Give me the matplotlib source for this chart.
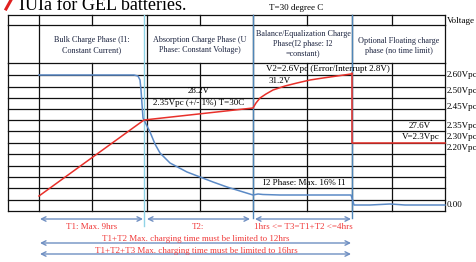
import matplotlib
matplotlib.use('Agg')
import matplotlib.pyplot as plt

plt.rcParams['font.family'] = ['Liberation Serif', 'DejaVu Serif']

# table grid (pixel layout of the schematic)
col_x = [8, 39, 92, 147, 200, 253, 307, 352, 392, 445]
row_y = [15, 25, 63, 75, 87, 98, 109, 120, 131, 143, 154, 166, 177, 188, 200, 211]
header_cols = [8, 39, 147, 253, 352, 445]

phase_names = ['Bulk Charge Phase (I1:\nConstant Current)',
               'Absorption Charge Phase (U\nPhase: Constant Voltage)',
               'Balance/Equalization Charge\nPhase(I2 phase: I2\n=constant)',
               'Optional Floating charge\nphase (no time limit)']

volt_labels = ['2.60Vpc', '2.50Vpc', '2.45Vpc', '2.35Vpc', '2.30Vpc', '2.20Vpc', '0.00']
volt_label_y = [75, 91, 107, 126, 137, 148, 205]

# voltage curve (red)
volt_t = [39, 144, 253, 256, 260, 266, 273, 285, 297, 310, 323, 337, 351, 352, 352, 445]
volt_v = [196, 120, 108, 103, 98, 94, 90, 86, 83, 80, 78, 76, 74, 73, 143, 143]

# current curve (blue)
curr_t = [39, 134, 138, 140, 141, 142, 143, 146, 150, 155, 160, 170, 187,
          200, 213, 227, 240, 253, 258, 263, 280, 320, 351, 352, 354, 370,
          390, 405, 420, 445]
curr_i = [75, 75, 76, 80, 90, 104, 118, 124, 132, 144, 153, 163, 172,
          177, 182, 187, 191, 195, 194, 194.5, 195, 195, 195, 198, 205, 205,
          204, 205, 205, 205]

fig = plt.figure(figsize=(4.76, 2.62), dpi=100)
ax = fig.add_axes([0, 0, 1, 1])
ax.set_xlim(0, 476)
ax.set_ylim(262, 0)
ax.axis('off')

lc = '#111111'
# horizontal lines
for y in row_y:
    ax.plot([col_x[0], col_x[-1]], [y, y], color=lc, lw=0.9)
# vertical lines
for x in col_x:
    ax.plot([x, x], [row_y[0], row_y[1]], color=lc, lw=0.9)
    ax.plot([x, x], [row_y[2], row_y[-1]], color=lc, lw=0.9)
for x in header_cols:
    ax.plot([x, x], [row_y[1], row_y[2]], color=lc, lw=0.9)

# phase boundary markers
ax.plot([144, 144], [15, 226], color='#8fd3e6', lw=1.0)
ax.plot([253, 253], [15, 218], color='#4f86b8', lw=1.0)
ax.plot([352, 352], [15, 218], color='#4f86b8', lw=1.0)

# curves
ax.plot(curr_t, curr_i, color='#5b8ac6', lw=1.1)
ax.plot(volt_t, volt_v, color='#e8302a', lw=1.1)

# header text
hc = '#1c2440'
centers = [92, 200, 303, 399]
ys = [45, 45, 44, 46]
for c, y, name in zip(centers, ys, phase_names):
    ax.text(c, y, name, ha='center', va='center', fontsize=5.9, color=hc,
            linespacing=1.4)

fs = 6.5
ax.text(296, 8, 'T=30 degree C', ha='center', va='center', fontsize=fs)
ax.text(447, 21, 'Voltage', ha='left', va='center', fontsize=6.6)
for lab, y in zip(volt_labels, volt_label_y):
    ax.text(447, y, lab, ha='left', va='center', fontsize=fs)

# title (cut at the top, as in the source)
ax.text(19, 10, 'IUIa for GEL batteries.', ha='left', va='baseline',
        fontsize=13)
ax.plot([6, 11], [9, 0], color='#e02020', lw=2.2)

# annotations in the chart
ax.text(328, 69, 'V2=2.6Vpc (Error/Interrupt 2.8V)', ha='center', va='center', fontsize=fs)
ax.text(280, 81, '31.2V', ha='center', va='center', fontsize=fs)
ax.text(199, 91, '28.2V', ha='center', va='center', fontsize=fs)
ax.text(199, 103, '2.35Vpc (+/- 1%) T=30C', ha='center', va='center', fontsize=fs)
ax.text(420, 126, '27.6V', ha='center', va='center', fontsize=fs)
ax.text(421, 137, 'V=2.3Vpc', ha='center', va='center', fontsize=fs)
ax.text(304, 183, 'I2 Phase: Max. 16% I1', ha='center', va='center', fontsize=fs)

# time arrows
ac = '#6f8fc2'
arrows = [(40, 143, 219), (147, 250, 219), (255, 351, 219),
          (40, 351, 243), (40, 351, 254)]
for x0, x1, y in arrows:
    ax.annotate('', xy=(x1, y), xytext=(x0, y),
                arrowprops=dict(arrowstyle='<->', color=ac, lw=1.0,
                                shrinkA=0, shrinkB=0, mutation_scale=8))

rc = '#f03a3a'
ax.text(92, 227, 'T1: Max. 9hrs', ha='center', va='center', fontsize=fs, color=rc)
ax.text(198, 227, 'T2:', ha='center', va='center', fontsize=fs, color=rc)
ax.text(303, 227, '1hrs <= T3=T1+T2 <=4hrs', ha='center', va='center', fontsize=fs, color=rc)
ax.text(196, 239, 'T1+T2 Max. charging time must be limited to 12hrs',
        ha='center', va='center', fontsize=fs, color=rc)
ax.text(196, 251, 'T1+T2+T3 Max. charging time must be limited to 16hrs',
        ha='center', va='center', fontsize=fs, color=rc)

fig.savefig('out.png', dpi=100)
